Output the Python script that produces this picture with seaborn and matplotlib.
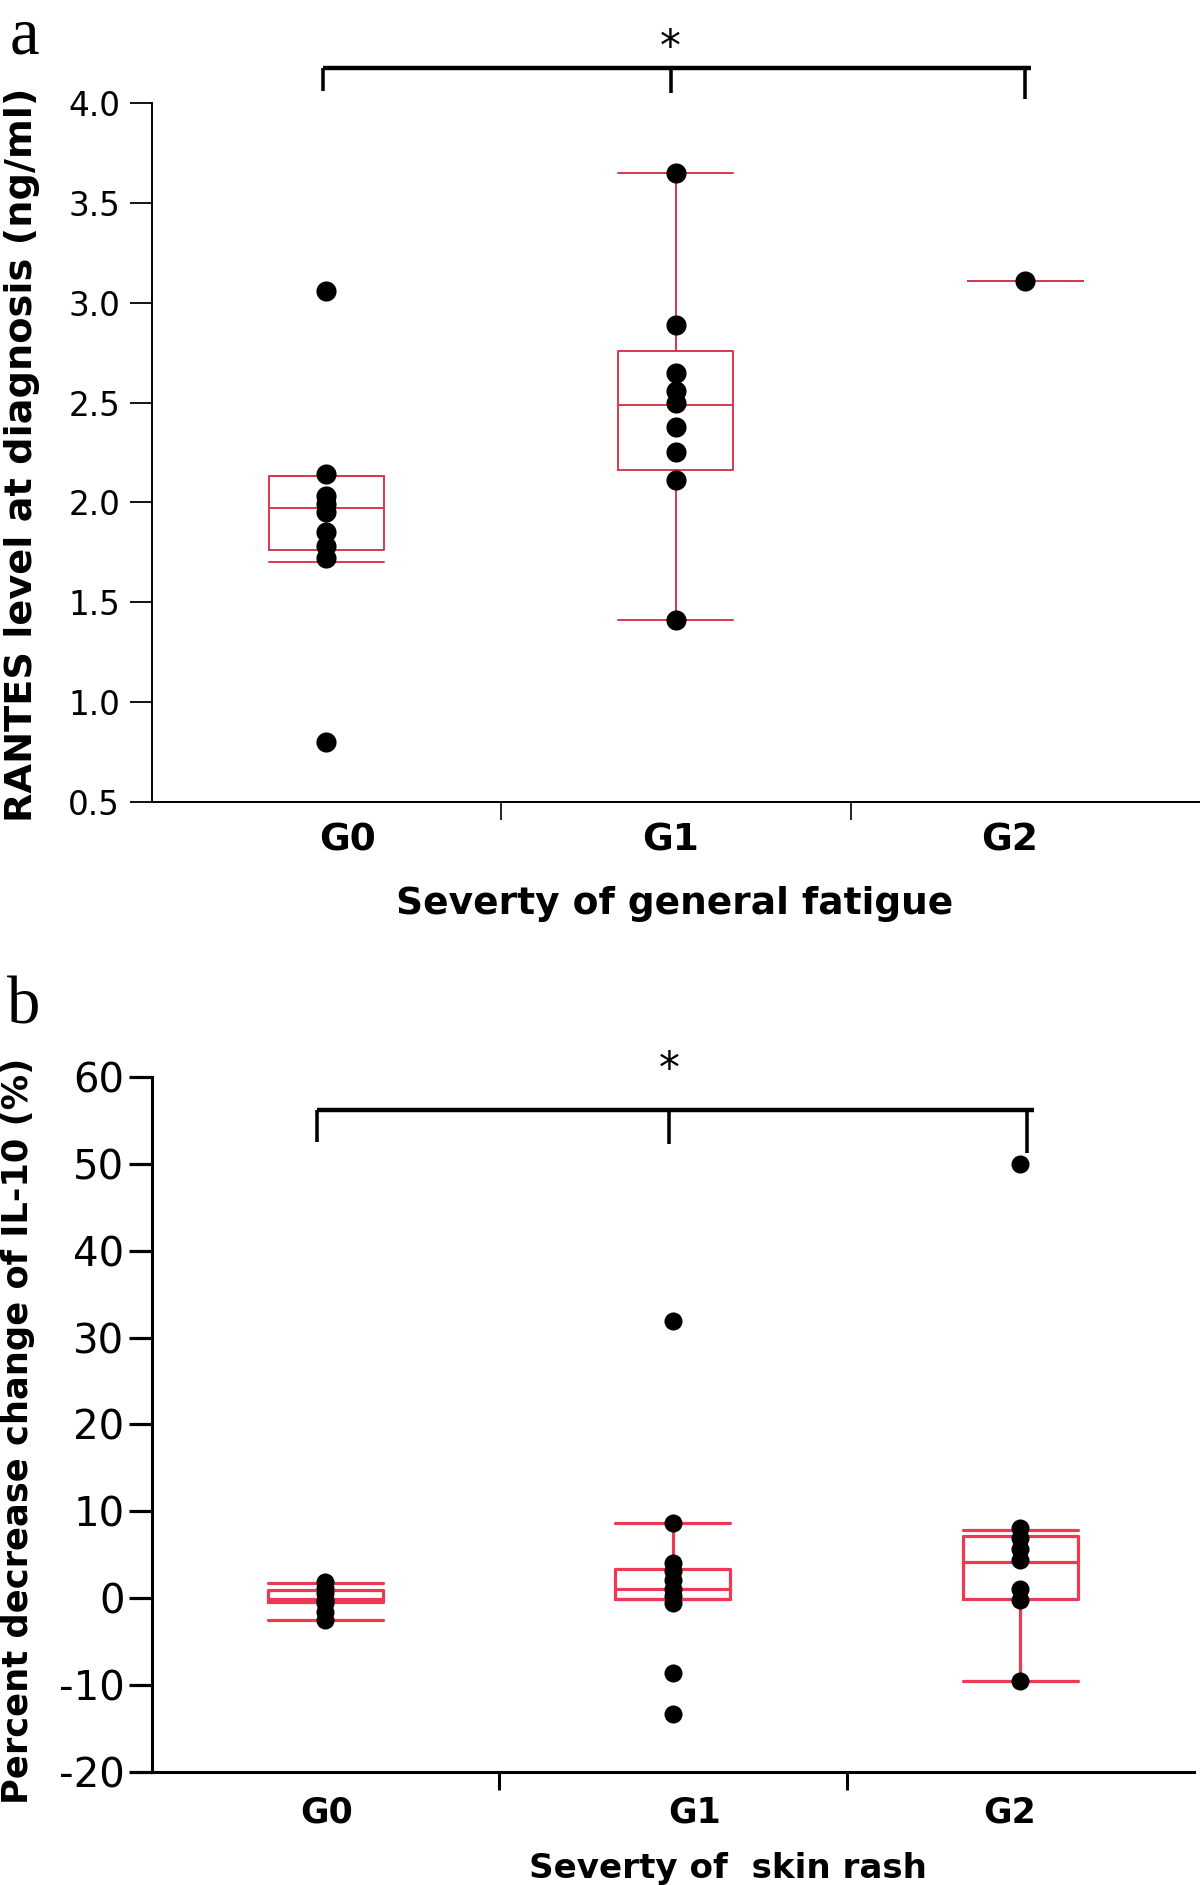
import numpy as np
import pandas as pd
import matplotlib
matplotlib.use("Agg")
import matplotlib.pyplot as plt
import seaborn as sns

# ---------------- data ----------------
grades = ["G0", "G1", "G2"]

# Panel a: RANTES level at diagnosis (ng/ml)
rantes_g0 = [3.06, 2.14, 2.03, 1.99, 1.95, 1.85, 1.78, 1.72, 0.80]
rantes_g1 = [3.65, 2.89, 2.65, 2.56, 2.50, 2.38, 2.25, 2.11, 1.41]
rantes_g2 = [3.11]
# box statistics: whisker low, Q1, median, Q3, whisker high
rantes_box_g0 = [1.70, 1.76, 1.97, 2.13, 2.13]
rantes_box_g1 = [1.41, 2.16, 2.49, 2.76, 3.65]
rantes_box_g2 = [3.11, 3.11, 3.11, 3.11, 3.11]
rantes_yticks = [0.5, 1.0, 1.5, 2.0, 2.5, 3.0, 3.5, 4.0]

# Panel b: percent decrease change of IL-10 (%)
il10_g0 = [1.9, 1.2, 0.6, -0.2, -0.6, -1.6, -2.5]
il10_g1 = [31.9, 8.7, 4.0, 3.1, 2.1, 1.1, 0.2, -0.6, -8.6, -13.4]
il10_g2 = [50.0, 8.1, 6.9, 5.6, 4.4, 1.0, -0.2, -9.5]
il10_box_g0 = [-2.5, -0.5, -0.1, 0.9, 1.7]
il10_box_g1 = [-0.1, -0.1, 1.05, 3.3, 8.7]
il10_box_g2 = [-9.5, -0.1, 4.2, 7.2, 7.8]
il10_yticks = [-20, -10, 0, 10, 20, 30, 40, 50, 60]

# ---------------- style ----------------
sns.set_theme(style="ticks")
plt.rcParams["font.family"] = ["DejaVu Sans"]
plt.rcParams["text.color"] = "black"
plt.rcParams["axes.labelcolor"] = "black"
plt.rcParams["xtick.color"] = "black"
plt.rcParams["ytick.color"] = "black"
plt.rcParams["axes.edgecolor"] = "black"

fig = plt.figure(figsize=(12, 18.85), dpi=100)
ax_a = fig.add_axes([0.12625, 0.5747, 0.87375, 0.3705])
ax_b = fig.add_axes([0.12625, 0.0601, 0.8688, 0.3684])


def long_df(groups):
    rows = []
    for g, vals in zip(grades, groups):
        for v in vals:
            rows.append({"grade": g, "value": v})
    return pd.DataFrame(rows)


def draw_boxes(ax, boxes, color, lw):
    stats = [dict(whislo=b[0], q1=b[1], med=b[2], q3=b[3], whishi=b[4], fliers=[])
             for b in boxes]
    props = dict(color=color, linewidth=lw)
    ax.bxp(stats, positions=[0, 1, 2], widths=0.33, capwidths=0.33,
           showfliers=False, boxprops=props, whiskerprops=props,
           capprops=props, medianprops=props, manage_ticks=False)


def bracket(ax, xs, xend, y, drops, star_xy, lw):
    ax.plot([xs[0], xend], [y, y], color="black", lw=lw, clip_on=False,
            solid_capstyle="butt")
    for x, d in zip(xs, drops):
        ax.plot([x, x], [y, d], color="black", lw=lw * 0.8, clip_on=False,
                solid_capstyle="butt")
    ax.text(star_xy[0], star_xy[1], "*", fontsize=30, ha="center",
            va="baseline", clip_on=False, color="black")


# ---------------- panel a ----------------
df_a = long_df([rantes_g0, rantes_g1, rantes_g2])
draw_boxes(ax_a, [rantes_box_g0, rantes_box_g1, rantes_box_g2], "#d8384f", 1.4)
sns.stripplot(data=df_a, x="grade", y="value", order=grades, jitter=False,
              color="black", size=14.5, linewidth=0, ax=ax_a, zorder=3)
ax_a.set_xlim(-0.5, 2.5)
ax_a.set_ylim(0.5, 4.0)
ax_a.set_yticks(rantes_yticks)
ax_a.set_yticklabels([f"{t:.1f}" for t in rantes_yticks])
ax_a.set_xticks([0.061, 0.986, 1.956])
ax_a.set_xticklabels(grades, fontweight="bold", fontsize=27)
ax_a.set_xticks([0.5, 1.5], minor=True)
ax_a.tick_params(axis="x", which="major", length=0, pad=15, labelcolor="black")
ax_a.tick_params(axis="x", which="minor", length=13, width=1.2, color="black")
ax_a.tick_params(axis="y", length=15.5, width=1.3, pad=7, labelsize=23.5,
                 color="black", labelcolor="black")
ax_a.set_xlabel("")
ax_a.set_ylabel("")
for s in ["top", "right"]:
    ax_a.spines[s].set_visible(False)
for s in ["left", "bottom"]:
    ax_a.spines[s].set_linewidth(1.4)
    ax_a.spines[s].set_color("black")
bracket(ax_a, [-0.01, 0.985, 2.0], 2.016, 4.175, [4.06, 4.05, 4.02],
        (0.985, 4.215), 3.2)

# ---------------- panel b ----------------
df_b = long_df([il10_g0, il10_g1, il10_g2])
draw_boxes(ax_b, [il10_box_g0, il10_box_g1, il10_box_g2], "#ec3a55", 2.3)
sns.stripplot(data=df_b, x="grade", y="value", order=grades, jitter=False,
              color="black", size=13, linewidth=0, ax=ax_b, zorder=3)
ax_b.set_xlim(-0.5, 2.5)
ax_b.set_ylim(-20, 60)
ax_b.set_yticks(il10_yticks)
ax_b.set_yticklabels([str(t) for t in il10_yticks])
ax_b.set_xticks([0.005, 1.064, 1.97])
ax_b.set_xticklabels(grades, fontweight="bold", fontsize=25)
ax_b.set_xticks([0.5, 1.5], minor=True)
ax_b.tick_params(axis="x", which="major", length=0, pad=17, labelcolor="black")
ax_b.tick_params(axis="x", which="minor", length=13, width=2.2, color="black")
ax_b.tick_params(axis="y", length=16.5, width=2.3, pad=3, labelsize=29,
                 color="black", labelcolor="black")
ax_b.set_xlabel("")
ax_b.set_ylabel("")
for s in ["top", "right"]:
    ax_b.spines[s].set_visible(False)
for s in ["left", "bottom"]:
    ax_b.spines[s].set_linewidth(2.2)
    ax_b.spines[s].set_color("black")
bracket(ax_b, [-0.023, 0.99, 2.02], 2.04, 56.2, [52.6, 52.3, 51.3],
        (0.99, 59.4), 3.2)

# ---------------- labels ----------------
H = 1885.0
W = 1200.0
fig.text(22 / W, 1 - 455 / H, "RANTES level at diagnosis (ng/ml)", rotation=90,
         ha="center", va="center", fontsize=27.5, fontweight="bold", color="black")
fig.text(675 / W, 1 - 914 / H, "Severty of general fatigue", ha="center",
         va="baseline", fontsize=27, fontweight="bold", color="black")
fig.text(18 / W, 1 - 1431 / H, "Percent decrease change of IL-10 (%)", rotation=90,
         ha="center", va="center", fontsize=25.4, fontweight="bold", color="black")
fig.text(728 / W, 1 - 1878 / H, "Severty of  skin rash", ha="center",
         va="baseline", fontsize=24.6, fontweight="bold", color="black")
fig.text(24 / W, 1 - 54 / H, "a", ha="center", va="baseline", fontsize=48,
         family=["Liberation Serif", "DejaVu Serif"], color="black")
fig.text(24 / W, 1 - 1024 / H, "b", ha="center", va="baseline", fontsize=48,
         family=["Liberation Serif", "DejaVu Serif"], color="black")

fig.savefig("out.png", dpi=100, facecolor="white")
